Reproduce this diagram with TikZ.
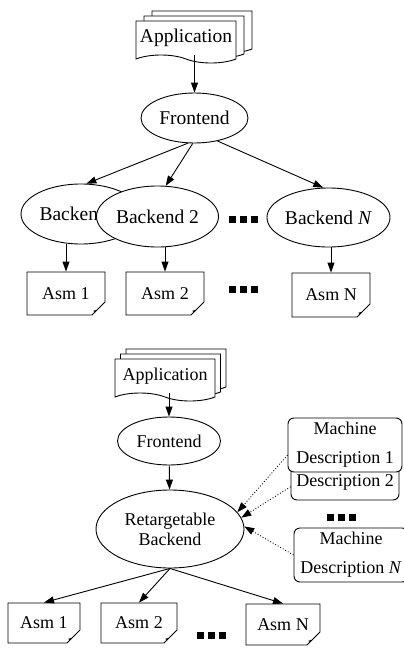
\documentclass[tikz,border=0pt]{standalone}
\usepackage{fontspec}
\setmainfont{Liberation Serif}
\usetikzlibrary{arrows.meta,shapes.geometric,shapes.symbols,shapes.misc,shadows}

\newcommand{\sqdots}{\rule{7pt}{7pt}\hspace{4pt}\rule{7pt}{7pt}\hspace{4pt}\rule{7pt}{7pt}}

\begin{document}
\begin{tikzpicture}[
  x=1pt, y=-1pt,
  line width=0.9pt,
  font=\fontsize{18}{20}\selectfont,
  big/.style={font=\fontsize{19.5}{22}\selectfont},
  app/.style={tape, tape bend top=none, tape bend bottom=out and in, tape bend height=8pt,
    draw, fill=white, inner sep=0pt, minimum width=100pt, minimum height=42pt,
    double copy shadow={shadow xshift=#1, shadow yshift=5pt, draw, fill=white}},
  oval/.style={ellipse, draw, fill=white, inner sep=0pt},
  asm/.style={chamfered rectangle, chamfered rectangle corners=south east,
    chamfered rectangle xsep=6pt, chamfered rectangle ysep=7pt,
    draw, fill=white, inner sep=0pt,
    path picture={\filldraw[fill=gray!45, line width=0.7pt]
      ([xshift=-6pt]path picture bounding box.south east) --
      ([yshift=7pt]path picture bounding box.south east) --
      ([xshift=-11pt,yshift=4pt]path picture bounding box.south east) -- cycle;}},
  mdesc/.style={draw, fill=white, rounded corners=6pt, align=center, inner sep=0pt,
    font=\fontsize{18}{29}\selectfont},
  sq/.style={inner sep=0pt},
  arr/.style={-{Triangle[length=10pt,width=7pt]}},
  dotarr/.style={dotted, -{Triangle[length=10pt,width=7pt]}}
]
\useasboundingbox (0,0) rectangle (404,648);

% one backend per target
\node[app=8pt, big] (app1) at (186,38) {Application};
\node[oval, big, minimum width=107pt, minimum height=50pt] (fe1) at (194.5,118) {Frontend};
\node[oval, big, minimum width=120pt, minimum height=60pt] (b1) at (81,214) {Backend 1};
\node[oval, big, minimum width=122pt, minimum height=61pt] (b2) at (157.5,216.5) {Backend 2};
\node[oval, big, minimum width=123pt, minimum height=59pt] (bn) at (328.5,217.5) {Backend \textit{N}};
\node[sq] (d1) at (243,219) {\sqdots};
\node[asm, minimum width=78pt, minimum height=43pt] (a1) at (66,293.5) {Asm 1};
\node[asm, minimum width=78pt, minimum height=43pt] (a2) at (165,293.5) {Asm 2};
\node[sq] (d2) at (243,289) {\sqdots};
\node[asm, minimum width=78pt, minimum height=44pt] (an) at (331,295) {Asm N};

\draw[arr] (app1.south -| fe1) -- (fe1);
\draw[arr] (fe1.255) -- (b1.80);
\draw[arr] (fe1.266) -- (b2.75);
\draw[arr] (fe1.315) -- (bn.100);
\draw[arr] (b1.south -| a1.north) -- (a1.north);
\draw[arr] (b2.south -| a2.north) -- (a2.north);
\draw[arr] (bn.south -| an.north) -- (an.north);

% retargetable backend
\node[app=5.5pt] (app2) at (165,376) {Application};
\node[oval, minimum width=103pt, minimum height=48pt] (fe2) at (169,441) {Frontend};
\node[oval, align=center, minimum width=148pt, minimum height=78pt] (rb) at (170,529) {Retargetable\\Backend};
\node[mdesc, minimum width=108pt, minimum height=36pt] (m2) at (345,482) {Description 2};
\node[mdesc, minimum width=114pt, minimum height=54pt] (m1) at (345,445) {Machine\\Description 1};
\node[sq] (d3) at (341,517) {\sqdots};
\node[mdesc, minimum width=114pt, minimum height=54pt] (mn) at (351,555) {Machine\\Description \textit{N}};
\node[asm, minimum width=72pt, minimum height=40pt] (c1) at (44,623) {Asm 1};
\node[asm, minimum width=76pt, minimum height=40pt] (c2) at (139,623) {Asm 2};
\node[sq] (d4) at (211,635) {\sqdots};
\node[asm, minimum width=74pt, minimum height=41pt] (cn) at (283,624.5) {Asm N};

\draw[arr] (app2.south -| fe2) -- (fe2);
\draw[arr] (fe2) -- (rb);
\draw[dotarr] (m1.190) -- (rb.14);
\draw[dotarr] (m2.185) -- (rb.9);
\draw[dotarr] (mn.west) -- (rb.2);
\draw[arr] (rb.south) -- (c1.north);
\draw[arr] (rb.south) -- (c2.north);
\draw[arr] (rb.south) -- (cn.north);
\end{tikzpicture}
\end{document}
